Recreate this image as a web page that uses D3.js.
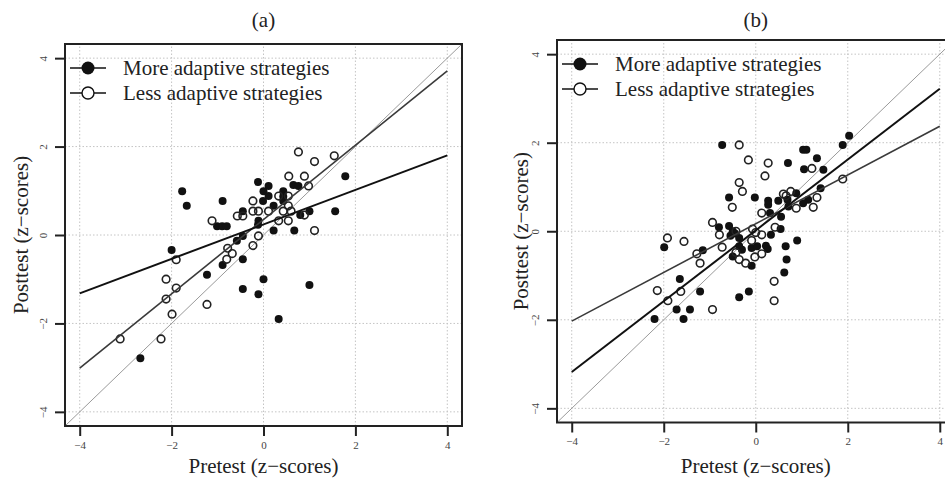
<!DOCTYPE html>
<html>
<head>
<meta charset="utf-8">
<script src="https://cdn.jsdelivr.net/npm/d3@7"></script>
<style>
  body { margin: 0; background: #fff; }
  svg { display: block; font-family: "Liberation Serif", "DejaVu Serif", serif; }
</style>
</head>
<body>
<svg id="chart" width="945" height="481"></svg>
<script>
// tick values and labels
const ticks = [-4, -2, 0, 2, 4];
const panelTitles = ["(a)", "(b)"];
const seriesNames = ["More adaptive strategies", "Less adaptive strategies"];
const xTitle = "Pretest (z\u2212scores)";
const yTitle = "Posttest (z\u2212scores)";

// panel (a) points, [pretest, posttest]
const aMore = [
    [1.78, 1.33], [-0.12, 1.2], [0.11, 1.11], [0.65, 1.13], [0.76, 1.11],
    [-1.77, 0.99], [0, 0.99], [0.43, 0.99], [0.11, 0.88], [0.43, 0.87],
    [-0.89, 0.77], [-0.01, 0.77], [0.43, 0.77], [-1.67, 0.66], [0.22, 0.66],
    [-0.45, 0.54], [1.0, 0.54], [1.56, 0.54], [0.8, 0.45], [-0.11, 0.32],
    [-1.01, 0.2], [-0.9, 0.2], [-0.8, 0.2], [-0.12, 0.23], [0.22, 0.1],
    [0.67, 0.1], [-0.45, -0.02], [-0.58, -0.13], [-2.0, -0.34], [-0.45, -0.55],
    [-0.89, -0.68], [-1.23, -0.9], [0, -1.0], [1.0, -1.13], [-0.45, -1.22],
    [-0.11, -1.34], [0.33, -1.9], [-2.68, -2.79]
];
const aLess = [
    [0.76, 1.88], [1.54, 1.79], [1.11, 1.66], [0.55, 1.33], [0.89, 1.33],
    [0.98, 1.11], [0.33, 0.88], [0.54, 0.88], [-0.23, 0.77], [0.54, 0.66],
    [-0.23, 0.54], [-0.11, 0.54], [0.11, 0.54], [0.43, 0.54], [0.6, 0.54],
    [0.89, 0.45], [-0.57, 0.43], [-0.45, 0.43], [0.54, 0.32], [0.33, 0.32],
    [-1.12, 0.32], [1.11, 0.1], [-0.11, -0.02], [-0.23, -0.24], [-0.78, -0.3],
    [-0.68, -0.42], [-0.8, -0.55], [-1.9, -0.56], [-2.12, -1.0], [-1.9, -1.2],
    [-2.12, -1.45], [-1.23, -1.57], [-1.99, -1.79], [-3.12, -2.35], [-2.23, -2.35]
];

// panel (b) points
const bMore = [
    [-0.73, 1.95], [1.03, 1.84], [1.1, 1.84], [2.03, 2.16], [1.89, 1.95],
    [1.33, 1.65], [0.7, 1.54], [1.05, 1.4], [1.47, 1.39], [1.41, 0.97],
    [-0.58, 0.76], [-0.02, 0.76], [0.88, 0.86], [0.49, 0.69], [0.27, 0.69],
    [0.69, 0.71], [1.14, 0.71], [1.03, 0.63], [0.71, 0.56], [0.27, 0.6],
    [0.31, 0.41], [0.55, 0.33], [-0.8, 0.09], [-0.58, 0.12], [0.54, 0.05],
    [-0.5, 0.0], [-0.45, -0.05], [-0.55, -0.1], [0.33, -0.08], [-0.36, -0.15],
    [0.9, -0.21], [-1.99, -0.36], [0.22, -0.33], [0.26, -0.4], [-0.36, -0.34],
    [-0.3, -0.42], [-0.09, -0.38], [0.03, -0.34], [0.65, -0.34], [-1.15, -0.43],
    [-0.5, -0.57], [0.67, -0.64], [-0.09, -0.78], [0.62, -0.93], [-1.65, -1.08],
    [-1.21, -1.36], [-0.36, -1.49], [-0.15, -1.36], [-1.72, -1.77], [-1.43, -1.77],
    [-2.2, -1.98], [-1.57, -1.98]
];
const bLess = [
    [-0.36, 1.95], [-0.16, 1.61], [0.27, 1.54], [1.22, 1.42], [0.2, 1.25],
    [1.89, 1.18], [-0.36, 1.1], [-0.29, 0.9], [0.6, 0.84], [0.76, 0.9],
    [0.66, 0.8], [1.33, 0.76], [1.25, 0.54], [0.88, 0.52], [-0.51, 0.54],
    [0.13, 0.41], [-0.94, 0.2], [0.42, 0.09], [-0.07, 0.05], [-0.43, 0.0],
    [-0.79, -0.08], [0, -0.03], [0.13, -0.08], [-0.09, -0.21], [-1.92, -0.15],
    [-1.56, -0.23], [-0.73, -0.36], [-1.28, -0.51], [-0.43, -0.48], [0.13, -0.51],
    [-0.02, -0.58], [-0.36, -0.64], [-1.21, -0.72], [-0.22, -0.72], [0.4, -1.13],
    [-2.14, -1.34], [-1.63, -1.36], [-1.91, -1.57], [0.4, -1.57], [-0.94, -1.77]
];

// fitted lines [intercept, slope], drawn over fitRange
const fitRange = [-4, 4];
const aFitMore = [0.24, 0.39];
const aFitLess = [0.35, 0.84];
const bFitMore = [0.02, 0.80];
const bFitLess = [0.17, 0.55];

const domain = [-4.32, 4.32];

const panels = [
    { title: panelTitles[0], more: aMore, less: aLess, fitMore: aFitMore, fitLess: aFitLess,
      xr: [65, 462], yr: [426, 44], yTitleX: 21 },
    { title: panelTitles[1], more: bMore, less: bLess, fitMore: bFitMore, fitLess: bFitLess,
      xr: [557, 954.5], yr: [422.5, 40], yTitleX: 521 }
];

const svg = d3.select("#chart");

panels.forEach(function(p, i) {
    let x = d3.scaleLinear().domain(domain).range(p.xr);
    let y = d3.scaleLinear().domain(domain).range(p.yr);
    let g = svg.append("g").attr("class", "panel" + i);

    let clipId = "clip" + i;
    g.append("clipPath").attr("id", clipId)
        .append("rect")
        .attr("x", p.xr[0]).attr("y", p.yr[1])
        .attr("width", p.xr[1] - p.xr[0]).attr("height", p.yr[0] - p.yr[1]);

    // dotted grid
    g.selectAll(".vgrid").data(ticks).enter().append("line")
        .attr("x1", d => x(d)).attr("x2", d => x(d))
        .attr("y1", p.yr[0]).attr("y2", p.yr[1])
        .attr("stroke", "#c4c4c4").attr("stroke-width", 1).attr("stroke-dasharray", "1.5,2");
    g.selectAll(".hgrid").data(ticks).enter().append("line")
        .attr("y1", d => y(d)).attr("y2", d => y(d))
        .attr("x1", p.xr[0]).attr("x2", p.xr[1])
        .attr("stroke", "#c4c4c4").attr("stroke-width", 1).attr("stroke-dasharray", "1.5,2");

    let inner = g.append("g").attr("clip-path", "url(#" + clipId + ")");

    // identity line
    inner.append("line")
        .attr("x1", x(domain[0])).attr("y1", y(domain[0]))
        .attr("x2", x(domain[1])).attr("y2", y(domain[1]))
        .attr("stroke", "#9a9a9a").attr("stroke-width", 1);

    // points
    inner.selectAll(".more").data(p.more).enter().append("circle")
        .attr("cx", d => x(d[0])).attr("cy", d => y(d[1])).attr("r", 4)
        .attr("fill", "#111");
    inner.selectAll(".less").data(p.less).enter().append("circle")
        .attr("cx", d => x(d[0])).attr("cy", d => y(d[1])).attr("r", 3.8)
        .attr("fill", "none").attr("stroke", "#222").attr("stroke-width", 1.6);

    // fitted lines
    let fit = function(c, col, w) {
        inner.append("line")
            .attr("x1", x(fitRange[0])).attr("y1", y(c[0] + c[1] * fitRange[0]))
            .attr("x2", x(fitRange[1])).attr("y2", y(c[0] + c[1] * fitRange[1]))
            .attr("stroke", col).attr("stroke-width", w);
    };
    fit(p.fitLess, "#3a3a3a", 1.6);
    fit(p.fitMore, "#111", 2);

    // frame
    g.append("rect")
        .attr("x", p.xr[0]).attr("y", p.yr[1])
        .attr("width", p.xr[1] - p.xr[0]).attr("height", p.yr[0] - p.yr[1])
        .attr("fill", "none").attr("stroke", "#222").attr("stroke-width", 2);

    // axes
    let xa = g.append("g").attr("transform", "translate(0," + p.yr[0] + ")")
        .call(d3.axisBottom(x).tickValues(ticks).tickSize(10).tickSizeOuter(0));
    xa.select(".domain").remove();
    xa.selectAll("line").attr("stroke", "#222").attr("stroke-width", 2);
    xa.selectAll("text").attr("y", 15).attr("font-size", 11).attr("fill", "#444")
        .attr("font-family", "Liberation Serif, serif");

    let ya = g.append("g").attr("transform", "translate(" + p.xr[0] + ",0)")
        .call(d3.axisLeft(y).tickValues(ticks).tickSize(10).tickSizeOuter(0));
    ya.select(".domain").remove();
    ya.selectAll("line").attr("stroke", "#222").attr("stroke-width", 2);
    ya.selectAll("text")
        .attr("transform", "rotate(-90)")
        .attr("x", 0).attr("y", -18).attr("dy", 0)
        .attr("text-anchor", "middle")
        .attr("font-size", 11).attr("fill", "#444")
        .attr("font-family", "Liberation Serif, serif");

    // titles
    let cx = x(0);
    g.append("text").attr("x", cx).attr("y", 27).attr("text-anchor", "middle")
        .attr("font-size", 21).attr("fill", "#222").text(p.title);
    g.append("text").attr("x", cx).attr("y", 473).attr("text-anchor", "middle")
        .attr("font-size", 21).attr("fill", "#222").text(xTitle);
    g.append("text")
        .attr("transform", "translate(" + (p.yTitleX + 7) + "," + y(0) + ") rotate(-90)")
        .attr("text-anchor", "middle")
        .attr("font-size", 21).attr("fill", "#222").text(yTitle);

    // legend
    let lx = p.xr[0] + 23;
    let ly = p.yr[1] + 24;
    seriesNames.forEach(function(name, k) {
        let yy = ly + k * 25;
        g.append("line").attr("x1", lx - 18).attr("x2", lx + 18)
            .attr("y1", yy).attr("y2", yy)
            .attr("stroke", "#111").attr("stroke-width", 1.6);
        if (k === 0)
            g.append("circle").attr("cx", lx).attr("cy", yy).attr("r", 6.5).attr("fill", "#111");
        else
            g.append("circle").attr("cx", lx).attr("cy", yy).attr("r", 6)
                .attr("fill", "#fff").attr("stroke", "#111").attr("stroke-width", 1.4);
        g.append("text").attr("x", lx + 35).attr("y", yy + 7)
            .attr("font-size", 21).attr("fill", "#222").text(name);
    });
});
</script>
</body>
</html>
